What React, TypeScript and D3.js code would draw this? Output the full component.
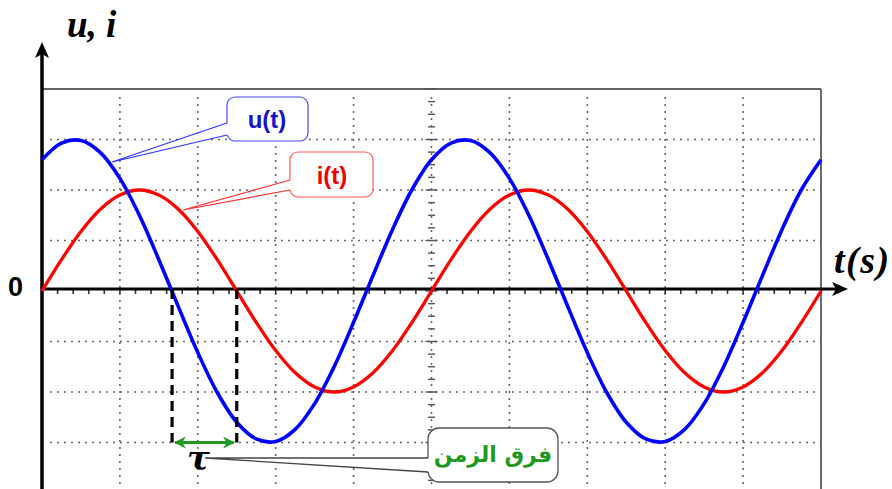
import React from 'react';
import * as d3 from 'd3';

// time in grid divisions (0.25 div steps), values in vertical divisions
const times = [
  0, 0.25, 0.5, 0.75, 1, 1.25, 1.5, 1.75, 2, 2.25, 2.5, 2.75, 3, 3.25, 3.5, 3.75, 4, 4.25, 4.5, 4.75,
  5, 5.25, 5.5, 5.75, 6, 6.25, 6.5, 6.75, 7, 7.25, 7.5, 7.75, 8, 8.25, 8.5, 8.75, 9, 9.25, 9.5, 9.75, 10,
];
const uValues = [
  2.6, 2.93, 2.98, 2.74, 2.23, 1.5, 0.62, -0.31, -1.22, -2.01, -2.6, -2.93, -2.98, -2.74, -2.23, -1.5, -0.62, 0.31, 1.22, 2.01,
  2.6, 2.93, 2.98, 2.74, 2.23, 1.5, 0.62, -0.31, -1.22, -2.01, -2.6, -2.93, -2.98, -2.74, -2.23, -1.5, -0.62, 0.31, 1.22, 2.01,
  2.6,
];
const iValues = [
  0, 0.62, 1.18, 1.62, 1.9, 2.0, 1.9, 1.62, 1.18, 0.62, 0, -0.62, -1.18, -1.62, -1.9, -2.0, -1.9, -1.62, -1.18, -0.62,
  0, 0.62, 1.18, 1.62, 1.9, 2.0, 1.9, 1.62, 1.18, 0.62, 0, -0.62, -1.18, -1.62, -1.9, -2.0, -1.9, -1.62, -1.18, -0.62,
  0,
];
const xGrid = [1, 2, 3, 4, 5, 6, 7, 8, 9, 10];
const yGrid = [3, 2, 1, -1, -2, -3];
const tauStart = 1.67;
const tauEnd = 2.5;
const tauLevel = -3;

const W = 892;
const H = 489;

const serif = "'Liberation Serif', 'Times New Roman', serif";
const sans = "'Liberation Sans', Arial, sans-serif";

const App = () => {
  const x = d3.scaleLinear().domain([0, 10]).range([42, 821]);
  const y = d3.scaleLinear().domain([-4, 4]).range([493, 89]);
  const axisY = y(0) - 2;
  const x0 = x(0);

  const line = d3
    .line<number>()
    .x((_, k) => x(times[k]))
    .y((d) => y(d))
    .curve(d3.curveCatmullRom);

  const minorX = d3.range(0, 10.001, 0.2);
  const minorY = d3.range(-4, 4.001, 0.25);
  const dots = { stroke: '#666', strokeWidth: 1.6, strokeDasharray: '2,5' };

  return (
    <svg width={W} height={H} style={{ position: 'absolute', left: 0, top: 0, background: '#fff' }}>
      <defs>
        <marker id="gArrow" viewBox="0 0 10 10" refX="9" refY="5" markerWidth="4" markerHeight="4" orient="auto-start-reverse">
          <path d="M0,0 L10,5 L0,10 L3,5 Z" fill="#1f9a1f" />
        </marker>
      </defs>

      {/* dotted grid */}
      {xGrid.slice(0, -1).map((g) => (
        <line key={'vx' + g} x1={x(g)} x2={x(g)} y1={y(4) + 8} y2={H} {...dots} />
      ))}
      {yGrid.map((g) => (
        <line key={'hy' + g} x1={x0 + 8} x2={x(10)} y1={y(g)} y2={y(g)} {...dots} />
      ))}

      {/* frame */}
      <line x1={x0} x2={x(10)} y1={y(4)} y2={y(4)} stroke="#333" strokeWidth={1.6} />
      <line x1={x(10)} x2={x(10)} y1={y(4)} y2={H} stroke="#444" strokeWidth={1.6} />

      {/* graduated centre line */}
      {minorY.map((v, k) => {
        const major = k % 4 === 0;
        const hw = major ? 6 : 3.5;
        return (
          <line key={'my' + k} x1={x(5) - hw} x2={x(5) + hw} y1={y(v)} y2={y(v)} stroke="#555" strokeWidth={1.4} />
        );
      })}

      {/* time axis ticks */}
      {minorX.map((v, k) => (
        <line key={'mx' + k} x1={x(v)} x2={x(v)} y1={axisY} y2={axisY + 5} stroke="#333" strokeWidth={1.6} />
      ))}

      {/* axes */}
      <line x1={x0} x2={x0} y1={H} y2={50} stroke="#000" strokeWidth={3.5} />
      <path d={`M${x0},42 L${x0 - 7},58 L${x0},54 L${x0 + 7},58 Z`} fill="#000" />
      <line x1={x0} x2={840} y1={axisY} y2={axisY} stroke="#000" strokeWidth={3} />
      <path d={`M848,${axisY} L832,${axisY - 7} L836,${axisY} L832,${axisY + 7} Z`} fill="#000" />

      {/* curves */}
      <path d={line(iValues) ?? ''} fill="none" stroke="#ff0000" strokeWidth={3.3} />
      <path d={line(uValues) ?? ''} fill="none" stroke="#0000ff" strokeWidth={3.6} />

      {/* time shift */}
      {[tauStart, tauEnd].map((t) => (
        <line key={'tau' + t} x1={x(t)} x2={x(t)} y1={axisY} y2={y(tauLevel)} stroke="#000" strokeWidth={3.2} strokeDasharray="10,6" />
      ))}
      <line
        x1={x(tauStart) + 3}
        x2={x(tauEnd) - 3}
        y1={y(tauLevel)}
        y2={y(tauLevel)}
        stroke="#1f9a1f"
        strokeWidth={3}
        markerStart="url(#gArrow)"
        markerEnd="url(#gArrow)"
      />
      <text x={187} y={470} fontFamily="'DejaVu Serif', serif" fontSize={34} fontWeight="bold" fontStyle="italic">τ</text>

      {/* axis labels */}
      <text x={67} y={37} fontFamily={serif} fontSize={37} fontWeight="bold" fontStyle="italic">u, i</text>
      <text x={834} y={273} fontFamily={serif} fontSize={38} fontWeight="bold" fontStyle="italic" letterSpacing={1.5}>t(s)</text>
      <text x={8} y={296} fontFamily={sans} fontSize={27} fontWeight="bold">0</text>

      {/* callout u(t) */}
      <rect x={227} y={97} width={81} height={44} rx={8} fill="#fff" stroke="#4a4aff" strokeWidth={1.2} />
      <polygon points="228,123 228,135 112,162" fill="#fff" />
      <polyline points="227,123 112,162 227,135" fill="none" stroke="#3030ff" strokeWidth={1.2} />
      <text x={267} y={128} textAnchor="middle" fontFamily={sans} fontSize={24} fontWeight="bold" fill="#1414c8">u(t)</text>

      {/* callout i(t) */}
      <rect x={290} y={152} width={83} height={45} rx={8} fill="#fff" stroke="#ff5a5a" strokeWidth={1.2} />
      <polygon points="291,180 291,190 183,210" fill="#fff" />
      <polyline points="290,180 183,210 290,190" fill="none" stroke="#ff3030" strokeWidth={1.2} />
      <text x={332} y={184} textAnchor="middle" fontFamily={sans} fontSize={24} fontWeight="bold" fill="#ee0000">i(t)</text>

      {/* callout time difference */}
      <rect x={428} y={428} width={130} height={54} rx={11} fill="#fff" stroke="#555" strokeWidth={1.3} />
      <polygon points="429,458 429,472 205,458" fill="#fff" />
      <polyline points="428,458 205,458 428,472" fill="none" stroke="#444" strokeWidth={1.3} />
      <text x={493} y={462} textAnchor="middle" fontFamily="'DejaVu Sans', sans-serif" fontSize={22} fontWeight="bold" fill="#1f9a1f">فرق الزمن</text>
    </svg>
  );
};

export default App;
